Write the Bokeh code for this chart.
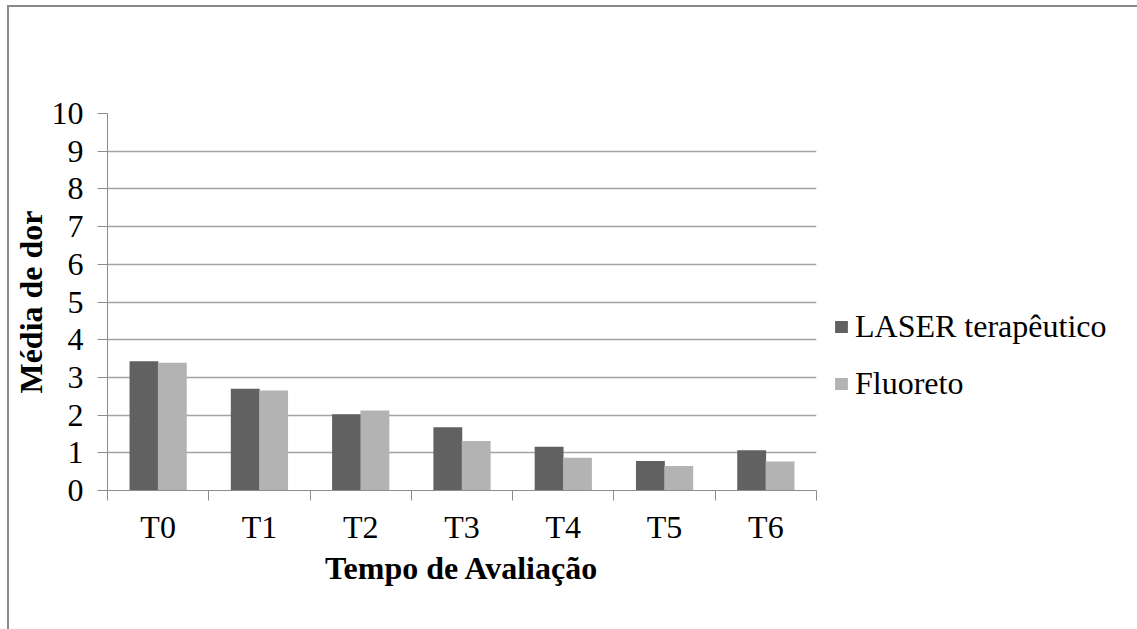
from bokeh.plotting import figure
from bokeh.models import (Range1d, FixedTicker, Legend, LegendItem, ColumnDataSource)
from bokeh.embed import file_html
from bokeh.resources import INLINE
import numpy as np

# Pain scores per evaluation time
categories = ["T0", "T1", "T2", "T3", "T4", "T5", "T6"]
laser = [3.43, 2.70, 2.02, 1.68, 1.16, 0.78, 1.07]
fluoreto = [3.39, 2.65, 2.12, 1.31, 0.87, 0.65, 0.77]
series_names = ["LASER terapêutico", "Fluoreto"]
y_ticks = list(range(0, 11))

FONT = "Liberation Serif"
FSIZE = "32px"
GRID = "#a3a3a3"
AXIS = "#8c8c8c"

centers = np.arange(len(categories)) + 0.5
offset = 0.14
bar_w = 0.285

p = figure(frame_width=709, frame_height=377, output_backend="svg",
           toolbar_location=None,
           x_range=Range1d(0, len(categories)), y_range=Range1d(0, 10),
           min_border_left=90, min_border_right=0, min_border_top=106,
           min_border_bottom=139,
           styles={"margin-left": "7px", "margin-top": "5px",
                   "border-left": "2px solid #8a8a8a",
                   "border-top": "2px solid #8a8a8a"})
p.outline_line_color = None
p.background_fill_color = "white"
p.border_fill_color = "white"

src_l = ColumnDataSource(dict(x=centers - offset, top=laser))
src_f = ColumnDataSource(dict(x=centers + offset, top=fluoreto))
r_l = p.vbar(x="x", top="top", width=bar_w, source=src_l,
             fill_color="#616161", line_color=None)
r_f = p.vbar(x="x", top="top", width=bar_w, source=src_f,
             fill_color="#b3b3b3", line_color=None)

# x axis: labels at category centres, tick marks at category boundaries
p.xaxis.ticker = FixedTicker(ticks=list(centers),
                             minor_ticks=list(range(len(categories) + 1)))
p.xaxis.major_label_overrides = {float(c): lab for c, lab in zip(centers, categories)}
p.xaxis.major_tick_out = 0
p.xaxis.major_tick_in = 0
p.xaxis.minor_tick_out = 10
p.xaxis.minor_tick_in = 0
p.xaxis.minor_tick_line_color = AXIS
p.xaxis.axis_line_color = AXIS
p.xaxis.major_label_standoff = 8
p.xaxis.axis_label = "Tempo de Avaliação"
p.xaxis.axis_label_standoff = 2
p.xgrid.grid_line_color = None

p.yaxis.ticker = FixedTicker(ticks=y_ticks)
p.yaxis.major_tick_out = 10
p.yaxis.major_tick_in = 0
p.yaxis.major_tick_line_color = AXIS
p.yaxis.minor_tick_line_color = None
p.yaxis.axis_line_color = AXIS
p.yaxis.major_label_standoff = 14
p.yaxis.axis_label = "Média de dor"
p.yaxis.axis_label_standoff = 0
p.ygrid.ticker = FixedTicker(ticks=y_ticks)
p.ygrid.grid_line_color = GRID
p.ygrid.grid_line_width = 1.5

for ax in (p.xaxis, p.yaxis):
    ax.major_label_text_font = FONT
    ax.major_label_text_font_size = FSIZE
    ax.major_label_text_color = "black"
    ax.axis_label_text_font = FONT
    ax.axis_label_text_font_size = FSIZE
    ax.axis_label_text_font_style = "bold"
    ax.axis_label_text_color = "black"

legend = Legend(items=[LegendItem(label=series_names[0], renderers=[r_l]),
                       LegendItem(label=series_names[1], renderers=[r_f])],
                location=(17, 88), orientation="vertical",
                border_line_color=None, background_fill_alpha=0,
                padding=0, margin=0, spacing=20,
                glyph_width=16, glyph_height=15, label_standoff=6,
                label_text_font=FONT, label_text_font_size=FSIZE,
                label_text_color="black")
p.add_layout(legend, "right")

open("out.html", "w").write(file_html(p, INLINE))
